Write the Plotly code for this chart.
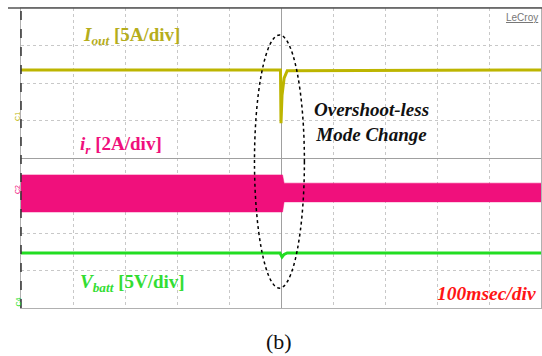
import plotly.graph_objects as go

# ---- data (time in ms relative to mode change, amplitude in scope divisions) ----
t_iout = [-500, -1, 0, 2, 6, 12, 500]
iout_div = [2.35, 2.35, 0.93, 1.68, 2.13, 2.33, 2.35]

t_ir = [-500, 3, 6, 500]
ir_upper_div = [-0.45, -0.45, -0.67, -0.67]
ir_lower_div = [-1.44, -1.44, -1.17, -1.17]

t_vbatt = [-500, -2, 2, 6, 12, 500]
vbatt_div = [-2.53, -2.53, -2.64, -2.57, -2.53, -2.53]

x_range = [-500, 500]
y_range = [-4, 4]

OLIVE = "#BDB500"
OLIVE_TXT = "#B5AD1C"
MAGENTA = "#F0107C"
GREEN = "#22DD22"
GREEN_TXT = "#33DD33"
RED = "#FF1515"

fig = go.Figure()

# i_r band (envelope of high-frequency ripple)
fig.add_trace(go.Scatter(x=t_ir, y=ir_upper_div, mode="lines",
                         line=dict(color=MAGENTA, width=0.5), showlegend=False))
fig.add_trace(go.Scatter(x=t_ir, y=ir_lower_div, mode="lines",
                         line=dict(color=MAGENTA, width=0.5),
                         fill="tonexty", fillcolor=MAGENTA, showlegend=False))
# I_out
fig.add_trace(go.Scatter(x=t_iout, y=iout_div, mode="lines",
                         line=dict(color=OLIVE, width=3), showlegend=False))
# V_batt
fig.add_trace(go.Scatter(x=t_vbatt, y=vbatt_div, mode="lines",
                         line=dict(color=GREEN, width=3), showlegend=False))

SERIF = "Liberation Serif"

def ann(text, x, y, color, size=19, xanchor="left", **kw):
    fig.add_annotation(text=text, x=x, y=y, xref=kw.pop("xref", "x"), yref=kw.pop("yref", "y"),
                       showarrow=False, xanchor=xanchor, yanchor="middle",
                       font=dict(family=kw.pop("family", SERIF), size=size, color=color), **kw)

ann("<b><i>I<sub>out</sub></i> [5A/div]</b>", -385, 3.25, OLIVE_TXT)
ann("<b><i>i<sub>r</sub></i> [2A/div]</b>", -390, 0.35, MAGENTA)
ann("<b><i>V<sub>batt</sub></i> [5V/div]</b>", -390, -3.33, GREEN_TXT)
ann("<b><i>Overshoot-less<br>Mode Change</i></b>", 174, 0.95, "#111111", xanchor="center")
ann("<b><i>100msec/div</i></b>", 396, -3.6, RED, xanchor="center", size=19.5)
ann("<u>LeCroy</u>", 0.998, 3.76, "#777777", size=10, xanchor="right", xref="paper",
    family="Liberation Sans")
ann("(b)", 0.497, -0.11, "#111111", size=22, xanchor="center", xref="paper", yref="paper")

# channel markers at left edge
for lbl, yv, col in [("C1", 1.1, OLIVE), ("C2", -0.85, MAGENTA), ("C4", -3.85, GREEN)]:
    fig.add_annotation(text=lbl, x=-0.016, y=yv, xref="paper", yref="y", showarrow=False,
                       textangle=-90, font=dict(family="Liberation Sans", size=7, color=col))

# dashed ellipse
fig.add_shape(type="circle", xref="x", yref="y", x0=-51, x1=45, y0=-3.47, y1=3.28,
              line=dict(color="black", width=1.5, dash="dot"))

# frame lines
fig.add_shape(type="line", xref="paper", yref="paper", x0=-0.025, x1=1.01, y0=1, y1=1,
              line=dict(color="#555555", width=1.5))
fig.add_shape(type="line", xref="paper", yref="paper", x0=0, x1=0, y0=0, y1=1,
              line=dict(color="#333333", width=1.5, dash="dash"))

fig.update_xaxes(range=x_range, dtick=100, showticklabels=False, ticks="",
                 showgrid=True, gridcolor="#c8c8c8", griddash="dot", gridwidth=1,
                 zeroline=True, zerolinecolor="#a0a0a0", zerolinewidth=1,
                 showline=True, linecolor="#b0b0b0", mirror=True)
fig.update_yaxes(range=y_range, dtick=1, showticklabels=False, ticks="",
                 showgrid=True, gridcolor="#c8c8c8", griddash="dot", gridwidth=1,
                 zeroline=True, zerolinecolor="#a0a0a0", zerolinewidth=1,
                 showline=True, linecolor="#b0b0b0", mirror=True)

fig.update_layout(width=542, height=356, margin=dict(l=21, r=1, t=8, b=48),
                  paper_bgcolor="white", plot_bgcolor="white")

fig.write_html("out.html", config={"displayModeBar": False},
               post_script="document.body.style.margin='0';document.body.style.overflow='hidden';")
